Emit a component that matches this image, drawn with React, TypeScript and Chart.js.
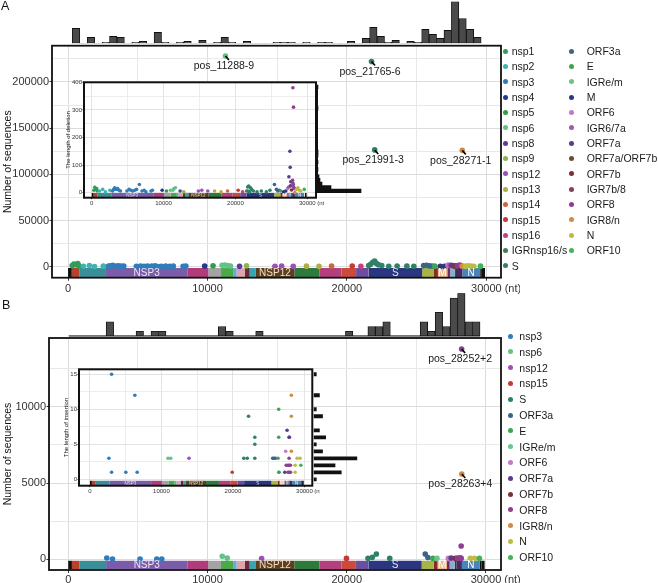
import React, { useEffect, useRef } from 'react';
import { Chart, registerables } from 'chart.js';
Chart.register(...registerables);

const FONT = '"Liberation Sans", Arial, Helvetica, sans-serif';

// ---------------- DATA ----------------
// genome annotation (nt)
const genomeName = ['UTR5','nsp1','nsp2','nsp3','nsp4','nsp5','nsp6','nsp7','nsp8','nsp9','nsp10','nsp12','nsp13','nsp14','nsp15','nsp16','IGR','S','IGR2','ORF3a','E','M','ORF6','ORF7a','ORF7b','ORF8','N','ORF10','UTR3'];
const genomeStart = [1,266,806,2720,8555,10055,10973,11843,12092,12686,13025,13442,16237,18040,19621,20659,21553,21563,25385,25393,26245,26523,27202,27394,27756,27894,28274,29558,29675];
const genomeEnd = [265,805,2719,8554,10054,10972,11842,12091,12685,13024,13441,16236,18039,19620,20658,21552,21562,25384,25392,26244,26522,27201,27393,27755,27893,28273,29557,29674,29903];
const genomeLabel = ['NSP3','NSP12','S','M','N'];
const genomeLabelPos = [5637,14839,23473,26857,28915];

// tick values
const xTicks = [0, 5000, 10000, 15000, 20000, 25000, 30000];
const yTicksA = [0, 25000, 50000, 75000, 100000, 125000, 150000, 175000, 200000, 225000];
const yTicksInsetA = [0, 50, 100, 150, 200, 250, 300, 350, 400];
const yTicksB = [0, 2500, 5000, 7500, 10000, 12500];
const yTicksInsetB = [0, 2.5, 5, 7.5, 10, 12.5, 15];

// Panel A: number of sequences per deletion [position, count, region]
const mainAPoints: [number, number, string][] = [
  [300,1500,'nsp1'],[420,3200,'nsp1'],[560,2500,'nsp1'],[700,3800,'nsp1'],[780,1200,'nsp1'],
  [1100,800,'nsp2'],[1530,1500,'nsp2'],[1900,600,'nsp2'],[2530,900,'nsp2'],
  [2900,900,'nsp3'],[3050,1300,'nsp3'],[3200,1700,'nsp3'],[3400,1100,'nsp3'],[3600,1400,'nsp3'],[3800,900,'nsp3'],[4000,1000,'nsp3'],
  [4900,700,'nsp3'],[5200,1000,'nsp3'],[5450,800,'nsp3'],[5700,1100,'nsp3'],[6000,900,'nsp3'],[6250,1200,'nsp3'],[6500,600,'nsp3'],
  [6700,800,'nsp3'],[7000,1000,'nsp3'],[7300,700,'nsp3'],[7550,900,'nsp3'],[8250,800,'nsp3'],[8450,1000,'nsp3'],
  [9800,1000,'nsp4'],[10400,1200,'nsp5'],
  [11050,1800,'nsp6'],[11250,2200,'nsp6'],[11450,1500,'nsp6'],[11650,1000,'nsp6'],[11288,228000,'nsp6'],
  [12300,700,'nsp8'],[12800,1200,'nsp9'],
  [14840,800,'nsp12'],[15320,900,'nsp12'],[16150,700,'nsp12'],
  [17100,900,'nsp13'],[18000,700,'nsp13'],[18900,1000,'nsp14'],[20380,1100,'nsp15'],[21000,800,'nsp16'],[21560,1500,'IGRnsp16/s'],
  [21700,3000,'S'],[21850,5000,'S'],[21990,6500,'S'],[22100,4000,'S'],[22250,2500,'S'],[22500,1500,'S'],[23000,800,'S'],
  [23600,1000,'S'],[24300,900,'S'],[24800,800,'S'],[21765,222000,'S'],[21991,126500,'S'],
  [25500,1500,'ORF3a'],[25700,1800,'ORF3a'],[25900,1200,'ORF3a'],[26100,1000,'ORF3a'],
  [26300,900,'E'],[26700,800,'M'],[27000,700,'M'],[27250,2000,'ORF6'],[27390,1500,'IGR6/7a'],[27500,1800,'ORF7a'],
  [27650,1200,'ORF7a'],[27760,1000,'ORF7a/ORF7b'],[27800,900,'ORF7b'],[27890,1100,'IGR7b/8'],
  [27950,1600,'ORF8'],[28100,2200,'ORF8'],[28200,1200,'ORF8'],[28262,1000,'IGR8/n'],[28271,126000,'IGR8/n'],
  [28500,900,'N'],[28700,1300,'N'],[28900,1100,'N'],[29100,800,'N'],[29580,900,'ORF10'],
];
const annotAPos = [11288, 21765, 21991, 28271];
const annotALabel = ['pos_11288-9', 'pos_21765-6', 'pos_21991-3', 'pos_28271-1'];

// Panel A inset: deletion length [position, length, region]
const insetAPoints: [number, number, string][] = [
  [300,9,'nsp1'],[420,20,'nsp1'],[560,12,'nsp1'],[700,15,'nsp1'],[780,6,'nsp1'],
  [1100,6,'nsp2'],[1530,12,'nsp2'],[1900,3,'nsp2'],[2530,9,'nsp2'],
  [2900,6,'nsp3'],[3050,12,'nsp3'],[3200,18,'nsp3'],[3400,12,'nsp3'],[3600,15,'nsp3'],[3800,9,'nsp3'],[4000,6,'nsp3'],
  [4900,6,'nsp3'],[5200,12,'nsp3'],[5450,9,'nsp3'],[5700,6,'nsp3'],[6000,9,'nsp3'],[6250,12,'nsp3'],[6630,30,'nsp3'],
  [7000,6,'nsp3'],[7300,9,'nsp3'],[7550,3,'nsp3'],[8250,6,'nsp3'],[8450,9,'nsp3'],
  [9800,9,'nsp4'],[10400,6,'nsp5'],[10950,9,'nsp6'],[11288,9,'nsp6'],[11450,15,'nsp6'],[11650,18,'nsp6'],
  [12300,6,'nsp8'],[12800,3,'nsp9'],[14840,6,'nsp12'],[15320,9,'nsp12'],[16150,6,'nsp12'],
  [17100,6,'nsp13'],[18000,3,'nsp13'],[18900,6,'nsp14'],[20380,9,'nsp15'],[21000,3,'nsp16'],[21560,6,'IGRnsp16/s'],
  [21700,21,'S'],[21765,6,'S'],[21850,24,'S'],[21990,3,'S'],[22100,18,'S'],[22250,12,'S'],[22500,6,'S'],
  [23000,3,'S'],[23600,6,'S'],[24300,3,'S'],[24800,9,'S'],
  [25430,30,'ORF3a'],[25700,12,'ORF3a'],[25900,6,'ORF3a'],[26100,9,'ORF3a'],[26300,6,'E'],[26700,3,'M'],[27000,6,'M'],
  [27250,15,'ORF6'],[27390,20,'IGR6/7a'],[27437,58,'ORF7a'],[27577,150,'ORF7a'],[27618,92,'ORF7a'],[27700,40,'ORF7a'],[27650,25,'ORF7a'],
  [27800,10,'ORF7b'],[27994,380,'ORF8'],[28078,310,'ORF8'],[27950,45,'ORF8'],[28000,35,'ORF8'],[28050,30,'ORF8'],[28100,20,'ORF8'],[28200,15,'ORF8'],
  [28271,1,'IGR8/n'],[28500,12,'N'],[28700,18,'N'],[28900,9,'N'],[29100,6,'N'],[29580,12,'ORF10'],
];

// Panel A top histogram (deletions per position bin)
const histAStart = 310;
const histABin = 533;
const histACounts = [15,0,6,0,1,7,6,0,1,2,0,11,1,0,1,2,0,3,0,1,6,1,0,2,0,0,0,1,1,1,0,1,0,1,1,0,0,2,0,5,16,7,1,3,0,2,1,14,9,5,13,42,25,14,6];
// Panel A inset right histogram (deletion length bins)
const lenHistAStart = 0;
const lenHistABin = 13;
const lenHistACounts = [44,14,5,3,2,0,1,0,1,0,1,1,0,0,0,0,0,0,0,0,0,0,0,1,0,0,0,0,0,1];

// Panel B: number of sequences per insertion
const mainBPoints: [number, number, string][] = [
  [2770,90,'nsp3'],[3180,20,'nsp3'],[5160,20,'nsp3'],[6360,20,'nsp3'],[6720,20,'nsp3'],
  [11060,200,'nsp6'],[11420,80,'nsp6'],[13890,50,'nsp12'],[19980,60,'nsp15'],
  [21530,65,'S'],[21840,130,'S'],[22130,350,'S'],[23090,65,'S'],
  [25640,350,'ORF3a'],[25830,120,'ORF3a'],[26190,60,'E'],[26480,60,'IGRe/m'],
  [27300,60,'ORF6'],[27500,80,'ORF7a'],[27800,60,'ORF7b'],[27950,90,'ORF8'],[28050,70,'ORF8'],[28150,100,'ORF8'],[28220,60,'ORF8'],
  [28220,870,'ORF8'],[28252,13780,'ORF8'],[28263,5590,'IGR8/n'],
  [28870,60,'N'],[29180,60,'N'],[29530,60,'ORF10'],
];
const annotBPos = [28252, 28263];
const annotBLabel = ['pos_28252+2', 'pos_28263+4'];

// Panel B inset: insertion length
const insetBPoints: [number, number, string][] = [
  [3026,15,'nsp3'],[6276,12,'nsp3'],[2650,3,'nsp3'],[3026,1,'nsp3'],[5020,1,'nsp3'],[6600,1,'nsp3'],
  [10920,3,'nsp6'],[11300,3,'nsp6'],[13850,3,'nsp12'],[19900,1,'nsp15'],
  [22180,9,'S'],[21520,3,'S'],[22000,3,'S'],[23060,6,'S'],[23060,5,'S'],[23060,3,'S'],
  [26400,10,'E'],[26400,6,'E'],[25560,3,'ORF3a'],[25750,3,'ORF3a'],[25950,3,'ORF3a'],[26300,3,'E'],[26400,1,'IGRe/m'],
  [28170,12,'IGR8/n'],[28170,9,'IGR8/n'],[27570,7,'ORF7a'],[27850,6,'ORF8'],[27900,6,'ORF7a'],[27380,4,'ORF6'],[28170,4,'IGR8/n'],[27850,3,'ORF8'],
  [28970,3,'N'],[29380,3,'N'],[27450,2,'ORF8'],[27700,2,'ORF8'],[27850,2,'ORF8'],[28050,2,'ORF8'],[28700,2,'N'],[29500,2,'ORF10'],
  [26450,1,'E'],[27250,1,'ORF7a'],[27700,1,'ORF8'],[27900,1,'ORF8'],[28050,1,'ORF8'],[28700,1,'N'],
];

// Panel B top histogram
const histBStart = 39;
const histBBin = 537;
const histBCounts = [0,0,0,0,0,3,0,0,0,1,0,1,1,0,0,0,0,0,0,0,2,1,0,0,0,1,0,0,0,0,0,0,0,0,0,0,0,1,0,0,2,2,3,0,0,0,0,3,1,5,2,8,9,3,3];
// Panel B inset right histogram (insertion length 0..15)
const lenHistBCounts = [1,9,7,14,3,1,4,2,0,3,1,0,2,0,0,1];

const legendA1 = ['nsp1','nsp2','nsp3','nsp4','nsp5','nsp6','nsp8','nsp9','nsp12','nsp13','nsp14','nsp15','nsp16','IGRnsp16/s','S'];
const legendA2 = ['ORF3a','E','IGRe/m','M','ORF6','IGR6/7a','ORF7a','ORF7a/ORF7b','ORF7b','IGR7b/8','ORF8','IGR8/n','N','ORF10'];
const legendB = ['nsp3','nsp6','nsp12','nsp15','S','ORF3a','E','IGRe/m','ORF6','ORF7a','ORF7b','ORF8','IGR8/n','N','ORF10'];

// ---------------- STYLE ----------------
const regionColor: Record<string, string> = {
  nsp1: '#2f9e5a', nsp2: '#3cb4b0', nsp3: '#2f7dbb', nsp4: '#27378f', nsp5: '#2f9f47', nsp6: '#63c285',
  nsp8: '#5a3b9e', nsp9: '#86b84a', nsp12: '#9b50b8', nsp13: '#b4ad45', nsp14: '#c8683c', nsp15: '#c23a3a',
  nsp16: '#c83e84', 'IGRnsp16/s': '#3f7f4f', S: '#2f8068', ORF3a: '#3a6488', E: '#3fa352', 'IGRe/m': '#6cc489',
  M: '#2d3680', ORF6: '#c07ac8', 'IGR6/7a': '#a857a8', ORF7a: '#5d3b8c', 'ORF7a/ORF7b': '#6e4a36', ORF7b: '#7e2f36',
  'IGR7b/8': '#8c3e5a', ORF8: '#8e3f91', 'IGR8/n': '#d28b45', N: '#bcbc45', ORF10: '#44b25a',
};
const genomeFill: Record<string, string> = {
  UTR5: '#111111', nsp1: '#b5412f', nsp2: '#3a8e98', nsp3: '#7a5ca8', nsp4: '#b03c7c', nsp5: '#a3a3a3',
  nsp6: '#4aaa4a', nsp7: '#6aa8d8', nsp8: '#e0a2ac', nsp9: '#6b2a3a', nsp10: '#3aa5b0', nsp12: '#5a3f22',
  nsp13: '#2e7a3c', nsp14: '#b3407c', nsp15: '#cc4a3c', nsp16: '#6a4ea0', IGR: '#222222', S: '#2b3680',
  IGR2: '#222222', ORF3a: '#a5b548', E: '#8a2a2a', M: '#ecb990', ORF6: '#7a2a5a', ORF7a: '#8aaed0',
  ORF7b: '#333344', ORF8: '#4a2a6a', N: '#4a84b8', ORF10: '#111111', UTR3: '#111111',
};
const genomeLabelColor = ['#ece4f6', '#f3dcc0', '#dfe3f5', '#ffffff', '#ffffff'];

type Rect = { x: number; y: number; w: number; h: number };

function gridAxis(o: any) {
  const isMajor = (v: number) => Math.abs(v / o.major - Math.round(v / o.major)) < 1e-6;
  return {
    type: 'linear',
    min: o.min,
    max: o.max,
    bounds: 'data',
    offset: false,
    afterBuildTicks: (s: any) => {
      s.ticks = o.ticks.map((v: number) => ({ value: v }));
    },
    afterFit: (s: any) => {
      if (s.isHorizontal()) s.height = o.size;
      else s.width = o.size;
    },
    ticks: {
      autoSkip: false,
      maxRotation: 0,
      minRotation: 0,
      padding: o.pad,
      color: '#333333',
      font: { family: FONT, size: o.fontSize },
      callback: (v: number) => (isMajor(v) ? String(v) : ''),
    },
    grid: {
      color: (c: any) => (c.tick && isMajor(c.tick.value) ? '#dcdcdc' : '#e8e8e8'),
      lineWidth: o.gridWidth,
      tickLength: o.tickLen,
      tickWidth: 1,
      tickColor: (c: any) => (c.tick && isMajor(c.tick.value) ? '#333333' : 'rgba(0,0,0,0)'),
    },
    border: { display: false },
    title: o.title
      ? { display: true, text: o.title, color: '#111111', font: { family: FONT, size: o.titleSize }, padding: { top: o.titlePad, bottom: 0 } }
      : { display: false },
  };
}

function framePlugin(width: number, white: boolean) {
  return {
    id: 'frame',
    beforeDraw(chart: any) {
      if (!white) return;
      const a = chart.chartArea;
      chart.ctx.save();
      chart.ctx.fillStyle = '#ffffff';
      chart.ctx.fillRect(a.left, a.top, a.right - a.left, a.bottom - a.top);
      chart.ctx.restore();
    },
    afterDraw(chart: any) {
      const a = chart.chartArea;
      const ctx = chart.ctx;
      ctx.save();
      ctx.strokeStyle = '#111111';
      ctx.lineWidth = width;
      ctx.strokeRect(a.left, a.top, a.right - a.left, a.bottom - a.top);
      ctx.restore();
    },
  };
}

function genomeTextPlugin(y: number, size: number) {
  return {
    id: 'genomeText',
    afterDatasetsDraw(chart: any) {
      const { ctx, scales } = chart;
      ctx.save();
      ctx.font = `${size}px ${FONT}`;
      ctx.textAlign = 'center';
      ctx.textBaseline = 'middle';
      genomeLabel.forEach((t, i) => {
        ctx.fillStyle = genomeLabelColor[i];
        ctx.fillText(t, scales.x.getPixelForValue(genomeLabelPos[i]), scales.y.getPixelForValue(y) + 0.5);
      });
      ctx.restore();
    },
  };
}

function ntPlugin(size: number, gap: number) {
  return {
    id: 'nt',
    afterDraw(chart: any) {
      const xs = chart.scales.x;
      const ctx = chart.ctx;
      ctx.save();
      ctx.font = `${size}px ${FONT}`;
      const w = ctx.measureText('30000').width;
      ctx.fillStyle = '#333333';
      ctx.textAlign = 'left';
      ctx.textBaseline = 'middle';
      const y = xs.top + xs.options.grid.tickLength + xs.options.ticks.padding + (size * 1.2) / 2;
      ctx.fillText('(nt)', xs.getPixelForValue(30000) + w / 2 + gap, y);
      ctx.restore();
    },
  };
}

function annotPlugin(points: [number, number, string][], pos: number[], labels: string[]) {
  return {
    id: 'annot',
    afterDatasetsDraw(chart: any) {
      const { ctx, scales } = chart;
      ctx.save();
      pos.forEach((p, i) => {
        const pt = points.find((d) => d[0] === p && d[1] > 3000)!;
        const px = scales.x.getPixelForValue(pt[0]);
        const py = scales.y.getPixelForValue(pt[1]);
        ctx.strokeStyle = '#000000';
        ctx.lineWidth = 1.6;
        ctx.beginPath();
        ctx.moveTo(px, py);
        ctx.lineTo(px + 3.5, py + 4);
        ctx.stroke();
        ctx.font = `10.5px ${FONT}`;
        ctx.fillStyle = '#1a1a1a';
        ctx.textAlign = 'center';
        ctx.textBaseline = 'middle';
        ctx.fillText(labels[i], px - 1.5, py + 10.5);
      });
      ctx.restore();
    },
  };
}

function genomeDatasets(y: number, thick: number) {
  return genomeName.map((n, i) => ({
    type: 'line',
    data: [{ x: genomeStart[i] - 0.5, y }, { x: genomeEnd[i] + 0.5, y }],
    borderColor: genomeFill[n],
    borderWidth: thick,
    borderCapStyle: 'butt',
    pointRadius: 0,
    showLine: true,
    order: 2,
  }));
}

function pointDataset(points: [number, number, string][], r: number) {
  return {
    type: 'scatter',
    data: points.map((p) => ({ x: p[0], y: p[1] })),
    pointBackgroundColor: points.map((p) => regionColor[p[2]]),
    pointBorderWidth: 0,
    pointRadius: r,
    order: 0,
  };
}

function padFor(rect: Rect, area: { l: number; t: number; r: number; b: number }, yW: number, xH: number) {
  return {
    left: area.l - rect.x - yW,
    top: area.t - rect.y,
    right: rect.x + rect.w - area.r,
    bottom: rect.y + rect.h - area.b - xH,
  };
}

const baseOpts = { responsive: false, animation: false, devicePixelRatio: 1, events: [], plugins: { legend: { display: false }, tooltip: { enabled: false } } };

// ---------- chart builders ----------
function mainCfg(rect: Rect, area: any, xr: number[], yr: number[], yTicks: number[], yMajor: number, yW: number, xH: number, points: any, annotPos: number[], annotLabel: string[], gY: number, gT: number, titlePad: number, xPad: number) {
  return {
    type: 'scatter',
    data: { datasets: [pointDataset(points, 2.8), ...genomeDatasets(gY, gT)] },
    options: {
      ...baseOpts,
      layout: { padding: padFor(rect, area, yW, xH) },
      scales: {
        x: gridAxis({ min: xr[0], max: xr[1], ticks: xTicks, major: 10000, size: xH, fontSize: 11, tickLen: 3, pad: xPad, gridWidth: 1 }),
        y: gridAxis({ min: yr[0], max: yr[1], ticks: yTicks, major: yMajor, size: yW, fontSize: 11, tickLen: 2.5, pad: 0.5, gridWidth: 1, title: 'Number of sequences', titleSize: 10.5, titlePad }),
      },
    },
    plugins: [framePlugin(1.8, false), genomeTextPlugin(gY, 10), annotPlugin(points, annotPos, annotLabel), ntPlugin(11, 3)],
  };
}

function insetCfg(rect: Rect, area: any, xr: number[], yr: number[], yTicks: number[], yMajor: number, yW: number, xH: number, points: any, gY: number, gT: number, title: string, titlePad: number) {
  return {
    type: 'scatter',
    data: { datasets: [pointDataset(points, 1.8), ...genomeDatasets(gY, gT)] },
    options: {
      ...baseOpts,
      layout: { padding: padFor(rect, area, yW, xH) },
      scales: {
        x: gridAxis({ min: xr[0], max: xr[1], ticks: xTicks, major: 10000, size: xH, fontSize: 6, tickLen: 1.5, pad: 0.3, gridWidth: 0.8 }),
        y: gridAxis({ min: yr[0], max: yr[1], ticks: yTicks, major: yMajor, size: yW, fontSize: 6, tickLen: 1.5, pad: 0.5, gridWidth: 0.8, title, titleSize: 6, titlePad }),
      },
    },
    plugins: [framePlugin(2, true), genomeTextPlugin(gY, 4.5), ntPlugin(6, 1.5)],
  };
}

function topHistCfg(rect: Rect, area: any, xr: number[], ymax: number, start: number, bin: number, counts: number[], baseline: boolean) {
  const data = counts.map((c, i) => ({ x: start + bin * (i + 0.5), y: c }));
  const datasets: any[] = [
    {
      type: 'bar',
      data,
      backgroundColor: '#4a4a4a',
      borderColor: '#111111',
      borderWidth: (c: any) => (c.raw && c.raw.y > 0 ? 0.9 : 0),
      borderSkipped: false,
      barPercentage: 1,
      categoryPercentage: 1,
      order: 0,
    },
  ];
  if (baseline) {
    datasets.push({
      type: 'line',
      data: [{ x: start, y: 0 }, { x: start + bin * counts.length, y: 0 }],
      borderColor: '#111111',
      borderWidth: 1,
      pointRadius: 0,
      clip: 3,
      order: 1,
    });
  }
  return {
    type: 'bar',
    data: { datasets },
    options: {
      ...baseOpts,
      layout: { padding: padFor(rect, area, 0, 0) },
      scales: {
        x: { type: 'linear', min: xr[0], max: xr[1], display: false, offset: false, bounds: 'data' },
        y: { type: 'linear', min: 0, max: ymax, display: false, offset: false, bounds: 'data' },
      },
    },
  };
}

function sideHistCfg(rect: Rect, area: any, yr: number[], xmax: number, start: number, bin: number, counts: number[], pct: number, baseline: boolean) {
  const data = counts.map((c, i) => ({ y: start + bin * (i + 0.5), x: c }));
  const datasets: any[] = [
    {
      type: 'bar',
      data,
      backgroundColor: '#111111',
      borderWidth: 0,
      barPercentage: pct,
      categoryPercentage: 1,
      order: 0,
    },
  ];
  if (baseline) {
    datasets.push({
      type: 'line',
      indexAxis: 'y',
      data: [{ x: 0, y: start }, { x: 0, y: start + bin * counts.length }],
      borderColor: '#111111',
      borderWidth: 2,
      pointRadius: 0,
      clip: 3,
      order: 1,
    });
  }
  return {
    type: 'bar',
    data: { datasets },
    options: {
      ...baseOpts,
      indexAxis: 'y',
      layout: { padding: padFor(rect, area, 0, 0) },
      scales: {
        x: { type: 'linear', min: 0, max: xmax, display: false, offset: false, bounds: 'data' },
        y: { type: 'linear', min: yr[0], max: yr[1], display: false, offset: false, bounds: 'data' },
      },
    },
  };
}

function ChartCanvas({ rect, make }: { rect: Rect; make: () => any }) {
  const ref = useRef<HTMLCanvasElement>(null);
  useEffect(() => {
    const chart = new Chart(ref.current as HTMLCanvasElement, make());
    return () => chart.destroy();
  }, []);
  return <canvas ref={ref} width={rect.w} height={rect.h} style={{ position: 'absolute', left: rect.x, top: rect.y, width: rect.w, height: rect.h }} />;
}

function Legend({ items, dotX, textX, y0, step }: { items: string[]; dotX: number; textX: number; y0: number; step: number }) {
  return (
    <>
      {items.map((n, i) => (
        <React.Fragment key={n}>
          <span style={{ position: 'absolute', left: dotX - 2.5, top: y0 + i * step - 2.5, width: 5, height: 5, borderRadius: '50%', background: regionColor[n] }} />
          <span style={{ position: 'absolute', left: textX, top: y0 + i * step - 7, fontSize: 10.5, lineHeight: '14px', color: '#1a1a1a', whiteSpace: 'nowrap' }}>{n}</span>
        </React.Fragment>
      ))}
    </>
  );
}

// ---------- layout ----------
const rMainA: Rect = { x: 0, y: 0, w: 520, h: 300 };
const aMainA = { l: 52, t: 45.7, r: 501, b: 277.7 };
const rTopA: Rect = { x: 0, y: 0, w: 520, h: 46 };
const aTopA = { l: 52, t: 1.6, r: 501, b: 43.3 };
const rInsA: Rect = { x: 58, y: 74, w: 266, h: 138 };
const aInsA = { l: 84, t: 82.3, r: 316, b: 197.7 };
const rSideA: Rect = { x: 316, y: 74, w: 64, h: 138 };
const aSideA = { l: 317, t: 82.3, r: 377, b: 197.7 };

const rMainB: Rect = { x: 0, y: 292, w: 520, h: 291 };
const aMainB = { l: 49, t: 338, r: 501, b: 570 };
const rTopB: Rect = { x: 0, y: 290, w: 520, h: 48 };
const aTopB = { l: 49, t: 293.25, r: 501, b: 336 };
const rInsB: Rect = { x: 53, y: 361, w: 267, h: 138 };
const aInsB = { l: 79, t: 369.3, r: 312.3, b: 485.7 };
const rSideB: Rect = { x: 311, y: 361, w: 64, h: 138 };
const aSideB = { l: 313.5, t: 369.3, r: 373, b: 485.7 };

export default function App() {
  return (
    <div style={{ position: 'fixed', left: 0, top: 0, width: 658, height: 583, background: '#ffffff', overflow: 'hidden', fontFamily: FONT }}>
      <ChartCanvas rect={rMainA} make={() => mainCfg(rMainA, aMainA, [-1150, 31050], [-11580, 239100], yTicksA, 50000, 52, 22.3, mainAPoints, annotAPos, annotALabel, -6220, 9.5, 1.7, 1.5)} />
      <ChartCanvas rect={rTopA} make={() => topHistCfg(rTopA, aTopA, [-1150, 31050], 42, histAStart, histABin, histACounts, false)} />
      <ChartCanvas rect={rInsA} make={() => insetCfg(rInsA, aInsA, [-1072, 31210], [-18, 400], yTicksInsetA, 100, 26, 14.3, insetAPoints, -9.2, 4.5, 'The length of deletion', 6.9)} />
      <ChartCanvas rect={rSideA} make={() => sideHistCfg(rSideA, aSideA, [-18, 400], 60, lenHistAStart, lenHistABin, lenHistACounts, 1, true)} />

      <ChartCanvas rect={rMainB} make={() => mainCfg(rMainB, aMainB, [-1380, 31080], [-700, 14500], yTicksB, 5000, 49, 13, mainBPoints, annotBPos, annotBLabel, -373, 8.5, 1.7, 0.5)} />
      <ChartCanvas rect={rTopB} make={() => topHistCfg(rTopB, aTopB, [-1380, 31080], 9, histBStart, histBBin, histBCounts, true)} />
      <ChartCanvas rect={rInsB} make={() => insetCfg(rInsB, aInsB, [-1534, 31100], [-0.91, 15.71], yTicksInsetB, 5, 26, 13.3, insetBPoints, -0.51, 4.3, 'The length of insertion', 10.1)} />
      <ChartCanvas rect={rSideB} make={() => sideHistCfg(rSideB, aSideB, [-0.91, 15.71], 19.06, -0.5, 1, lenHistBCounts, 0.55, false)} />

      <Legend items={legendA1} dotX={505} textX={511.7} y0={51} step={15.34} />
      <Legend items={legendA2} dotX={571.7} textX={586.7} y0={51} step={15.34} />
      <Legend items={legendB} dotX={510.7} textX={519.3} y0={336} step={15.8} />

      <div style={{ position: 'absolute', left: 1, top: 0, fontSize: 12.5, lineHeight: '13px', color: '#111' }}>A</div>
      <div style={{ position: 'absolute', left: 2, top: 299, fontSize: 12.5, lineHeight: '13px', color: '#111' }}>B</div>
    </div>
  );
}
